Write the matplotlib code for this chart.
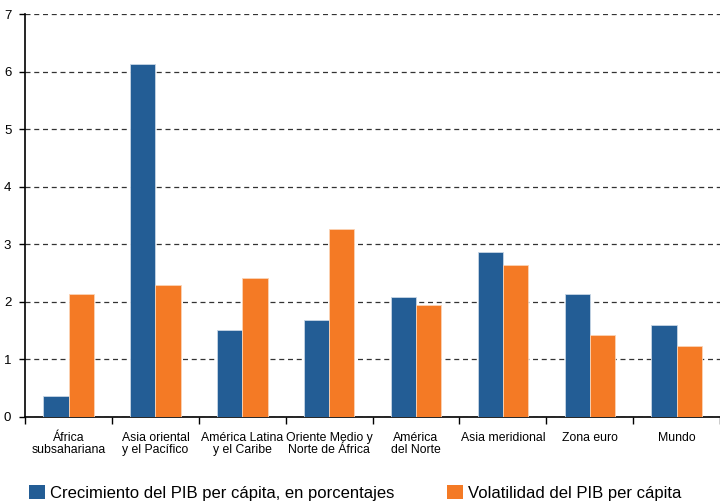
import numpy as np
import matplotlib
matplotlib.use('Agg')
import matplotlib.pyplot as plt
from matplotlib.patches import Patch

plt.rcParams['font.family'] = ['Liberation Sans', 'DejaVu Sans']

regiones = ['África\nsubsahariana', 'Asia oriental\ny el Pacífico', 'América Latina\ny el Caribe',
            'Oriente Medio y\nNorte de África', 'América\ndel Norte', 'Asia meridional',
            'Zona euro', 'Mundo']
crecimiento = [0.37, 6.13, 1.51, 1.69, 2.09, 2.86, 2.14, 1.59]
volatilidad = [2.14, 2.29, 2.41, 3.27, 1.94, 2.64, 1.43, 1.23]

azul = '#235d95'
naranja = '#f47a25'

fig = plt.figure(figsize=(7.2, 5.04), dpi=100)
ax = fig.add_axes([0.035, 0.173, 0.965, 0.799])

x = np.arange(len(regiones)) + 0.5
w = 0.29
ax.bar(x - w / 2, crecimiento, w, color=azul, edgecolor='#c8d6e5', linewidth=0.6, zorder=3)
ax.bar(x + w / 2, volatilidad, w, color=naranja, edgecolor='#fbd3b5', linewidth=0.6, zorder=3)

ax.set_xlim(0, 7.92)
ax.set_ylim(0, 7)
ax.set_yticks(range(0, 8))
ax.tick_params(axis='y', length=4, width=1, labelsize=9.5, pad=6)
ax.yaxis.grid(True, linestyle=(0, (4, 3)), color='#333333', linewidth=0.9, zorder=0)

ax.set_xticks(np.arange(0, 9))
ax.set_xticklabels([])
ax.tick_params(axis='x', length=5, width=1)
ax.set_xticks(x, minor=True)
ax.set_xticklabels(regiones, minor=True, fontsize=8.8, linespacing=1.0)
ax.tick_params(axis='x', which='minor', length=0, pad=11)

for s in ['top', 'right']:
    ax.spines[s].set_visible(False)
ax.spines['left'].set_linewidth(1.2)
ax.spines['bottom'].set_linewidth(1.2)

h1 = [Patch(facecolor=azul, label='Crecimiento del PIB per cápita, en porcentajes')]
h2 = [Patch(facecolor=naranja, label='Volatilidad del PIB per cápita')]
fig.legend(handles=h1, loc='center left', bbox_to_anchor=(0.022, 0.022), frameon=False,
           fontsize=12, handlelength=0.95, handleheight=0.95, handletextpad=0.3, borderpad=0.3)
fig.legend(handles=h2, loc='center left', bbox_to_anchor=(0.603, 0.022), frameon=False,
           fontsize=12, handlelength=0.95, handleheight=0.95, handletextpad=0.3, borderpad=0.3)

fig.savefig('out.png', dpi=100)
